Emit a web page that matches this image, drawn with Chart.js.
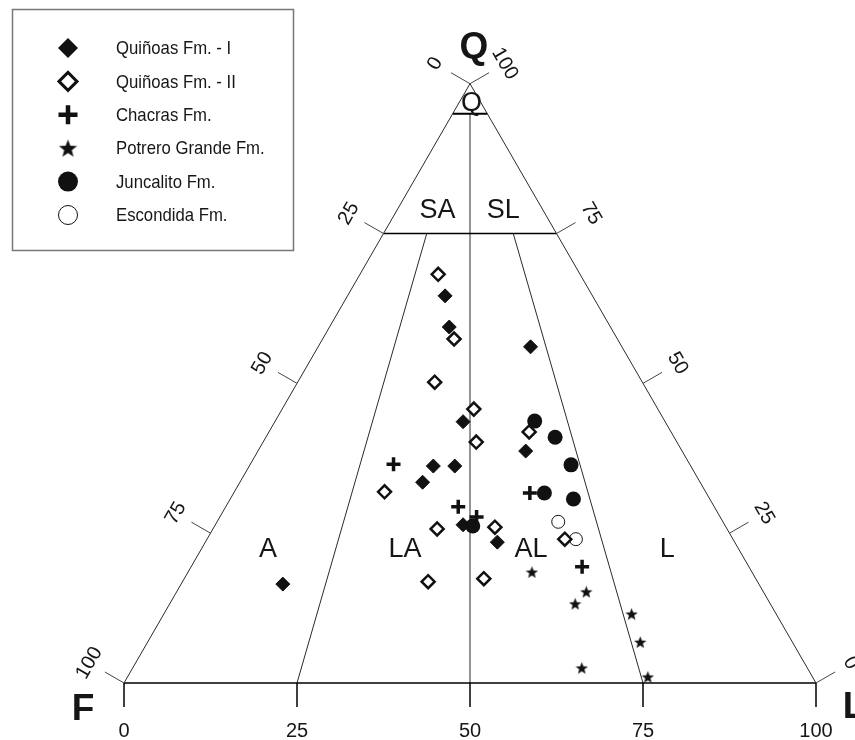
<!DOCTYPE html>
<html>
<head>
<meta charset="utf-8">
<title>QFL ternary diagram</title>
<script src="https://cdn.jsdelivr.net/npm/chart.js@4.4.1/dist/chart.umd.min.js"></script>
<style>
  html, body { margin: 0; padding: 0; background: #fff; }
  canvas { display: block; }
</style>
</head>
<body>
<canvas id="qfl" width="855" height="740"></canvas>
<script>
// ---- Modal compositions, each sample as [Q, F, L] in percent ----
const quinoasI = [
  [64.6, 21.3, 14.1], [59.4, 23.3, 17.3], [56.1, 13.2, 30.7], [43.6, 29.2, 27.2],
  [36.2, 37.2, 26.6], [36.2, 34.1, 29.7], [33.5, 40.1, 26.4], [38.7, 22.6, 38.7],
  [26.4, 37.8, 35.8], [23.5, 34.3, 42.2], [16.5, 68.8, 14.7]
];
const quinoasII = [
  [68.2, 20.5, 11.3], [57.4, 23.6, 19.0], [50.2, 30.0, 19.8], [45.7, 26.6, 27.7],
  [41.9, 20.5, 37.6], [40.2, 29.0, 30.8], [31.9, 46.4, 21.7], [25.7, 41.9, 32.4],
  [26.0, 33.4, 40.6], [24.0, 24.3, 51.7], [16.9, 47.6, 35.5], [17.4, 39.3, 43.3]
];
const chacras = [
  [36.5, 42.8, 20.7], [29.4, 37.0, 33.6], [27.7, 35.2, 37.1], [31.7, 25.5, 42.8],
  [19.4, 24.1, 56.5]
];
const potreroGrande = [
  [18.5, 31.8, 49.7], [15.2, 25.6, 59.2], [13.2, 28.2, 58.6], [11.5, 20.9, 67.6],
  [6.8, 22.0, 71.2], [1.0, 23.8, 75.2], [2.5, 32.6, 64.9]
];
const juncalito = [
  [43.7, 18.8, 37.5], [41.0, 17.2, 41.8], [36.4, 17.2, 46.4], [31.7, 23.4, 44.9],
  [30.7, 19.7, 49.6], [26.2, 36.5, 37.3]
];
const escondida = [
  [26.9, 23.8, 49.3], [24.0, 22.7, 53.3]
];

const seriesNames = ['Quiñoas Fm. - I', 'Quiñoas Fm. - II', 'Chacras Fm.',
                     'Potrero Grande Fm.', 'Juncalito Fm.', 'Escondida Fm.'];

// Axis ticks (percent) along each side of the triangle
const baseTicks = [0, 25, 50, 75, 100];        // L, along F-L side
const leftTicks = [0, 25, 50, 75, 100];        // F, along Q-F side
const rightTicks = [100, 75, 50, 25, 0];       // Q, along Q-L side
const cornerNames = ['Q', 'F', 'L'];
const fieldNames = ['Q', 'SA', 'SL', 'A', 'LA', 'AL', 'L'];

// ---- Ternary geometry ----
const H = Math.sqrt(3) / 2;
function toXY(c) {
  const s = c[0] + c[1] + c[2];
  const q = c[0] / s * 100, l = c[2] / s * 100;
  return { x: l + q / 2, y: q * H };
}

// Classification field boundaries (Q, F, L end points)
const boundaries = [
  { pts: [[100, 0, 0], [0, 100, 0]], w: 1, c: '#2a2a2a' },
  { pts: [[100, 0, 0], [0, 0, 100]], w: 1, c: '#2a2a2a' },
  { pts: [[0, 100, 0], [0, 0, 100]], w: 1.6, c: '#000' },
  { pts: [[95, 5, 0], [95, 0, 5]], w: 2, c: '#000' },
  { pts: [[75, 25, 0], [75, 0, 25]], w: 1.6, c: '#000' },
  { pts: [[95, 2.5, 2.5], [0, 50, 50]], w: 1.6, c: '#7a7a7a' },
  { pts: [[75, 18.75, 6.25], [0, 75, 25]], w: 1, c: '#2a2a2a' },
  { pts: [[75, 6.25, 18.75], [0, 25, 75]], w: 1, c: '#2a2a2a' }
];

// Star marker image
function makeStar(size) {
  const c = document.createElement('canvas');
  c.width = c.height = size;
  const g = c.getContext('2d');
  const R = size / 2, r = R * 0.42;
  const cx = size / 2, cy = size / 2 + R * 0.08;
  g.beginPath();
  for (let i = 0; i < 10; i++) {
    const a = -Math.PI / 2 + i * Math.PI / 5;
    const rr = i % 2 ? r : R;
    g.lineTo(cx + rr * Math.cos(a), cy + rr * Math.sin(a));
  }
  g.closePath();
  g.fillStyle = '#111';
  g.fill();
  return c;
}
const starSmall = makeStar(13);
const starBig = makeStar(19);

const markerStyles = [
  { pointStyle: 'rectRot', pointRadius: 7, backgroundColor: '#111', borderColor: '#111', borderWidth: 1 },
  { pointStyle: 'rectRot', pointRadius: 6.5, backgroundColor: '#fff', borderColor: '#111', borderWidth: 2.5 },
  { pointStyle: 'cross', pointRadius: 7, backgroundColor: '#111', borderColor: '#111', borderWidth: 3.5 },
  { pointStyle: starSmall, pointRadius: 7, backgroundColor: '#111', borderColor: '#111', borderWidth: 0 },
  { pointStyle: 'circle', pointRadius: 7.5, backgroundColor: '#111', borderColor: '#111', borderWidth: 0 },
  { pointStyle: 'circle', pointRadius: 6.5, backgroundColor: '#fff', borderColor: '#111', borderWidth: 1 }
];
const seriesData = [quinoasI, quinoasII, chacras, potreroGrande, juncalito, escondida];
const drawOrder = [5, 3, 1, 2, 4, 6];

const datasets = [];
seriesData.forEach((d, i) => {
  const st = markerStyles[i];
  datasets.push({
    label: seriesNames[i],
    data: d.map(toXY),
    showLine: false,
    order: drawOrder[i],
    pointStyle: st.pointStyle,
    pointRadius: st.pointRadius,
    pointHoverRadius: st.pointRadius,
    pointBackgroundColor: st.backgroundColor,
    pointBorderColor: st.borderColor,
    pointBorderWidth: st.borderWidth,
    pointHoverBorderWidth: st.borderWidth,
    clip: false
  });
});
boundaries.forEach((b, i) => {
  datasets.push({
    label: 'boundary' + i,
    data: b.pts.map(toXY),
    showLine: true,
    pointRadius: 0,
    pointHoverRadius: 0,
    borderColor: b.c,
    borderWidth: b.w,
    fill: false,
    order: 20 + i,
    clip: false
  });
});

// ---- Decorations: ticks, tick labels, corner and field names, legend ----
const FONT = "'Liberation Sans', Arial, sans-serif";
function txt(ctx, s, x, y, o) {
  ctx.save();
  ctx.translate(x, y);
  ctx.rotate(o.rot || 0);
  ctx.scale(o.sx || 1, 1);
  ctx.font = o.font;
  ctx.textAlign = o.align || 'center';
  ctx.textBaseline = o.baseline || 'alphabetic';
  ctx.fillStyle = o.color || '#161616';
  ctx.fillText(s, 0, 0);
  ctx.restore();
}

function legendMarker(ctx, i, x, y) {
  ctx.save();
  ctx.fillStyle = '#111';
  ctx.strokeStyle = '#111';
  if (i === 0 || i === 1) {
    const r = i === 0 ? 10 : 9;
    ctx.beginPath();
    ctx.moveTo(x - r, y); ctx.lineTo(x, y - r); ctx.lineTo(x + r, y); ctx.lineTo(x, y + r);
    ctx.closePath();
    if (i === 0) { ctx.fill(); }
    else { ctx.fillStyle = '#fff'; ctx.fill(); ctx.lineWidth = 3; ctx.stroke(); }
  } else if (i === 2) {
    ctx.lineWidth = 4.5;
    ctx.beginPath();
    ctx.moveTo(x - 9.5, y); ctx.lineTo(x + 9.5, y);
    ctx.moveTo(x, y - 9.5); ctx.lineTo(x, y + 9.5);
    ctx.stroke();
  } else if (i === 3) {
    ctx.drawImage(starBig, x - starBig.width / 2, y - starBig.height / 2);
  } else {
    ctx.beginPath();
    ctx.arc(x, y, i === 4 ? 10 : 9.5, 0, Math.PI * 2);
    if (i === 4) { ctx.fill(); }
    else { ctx.fillStyle = '#fff'; ctx.fill(); ctx.lineWidth = 1; ctx.stroke(); }
  }
  ctx.restore();
}

const decorations = {
  id: 'decorations',
  afterDraw(chart) {
    const ctx = chart.ctx;
    const xs = chart.scales.x, ys = chart.scales.y;
    const P = c => { const p = toXY(c); return [xs.getPixelForValue(p.x), ys.getPixelForValue(p.y)]; };
    const tickLen = 22, labDist = 40;
    const numFont = '20px ' + FONT;

    ctx.save();
    ctx.strokeStyle = '#333';
    ctx.lineWidth = 1;

    // base ticks (L)
    baseTicks.forEach(v => {
      const [x, y] = P([0, 100 - v, v]);
      ctx.strokeStyle = '#000';
      ctx.lineWidth = 1.5;
      ctx.beginPath(); ctx.moveTo(x, y); ctx.lineTo(x, y + 24); ctx.stroke();
      txt(ctx, String(v), x, y + 54, { font: numFont });
    });

    // left side ticks (F)
    const nl = [-Math.cos(Math.PI / 6), -0.5];
    leftTicks.forEach(v => {
      const [x, y] = P([100 - v, v, 0]);
      ctx.strokeStyle = '#444';
      ctx.lineWidth = 1;
      ctx.beginPath(); ctx.moveTo(x, y); ctx.lineTo(x + nl[0] * tickLen, y + nl[1] * tickLen); ctx.stroke();
      txt(ctx, String(v), x + nl[0] * labDist, y + nl[1] * labDist,
          { font: numFont, baseline: 'middle', rot: -Math.PI / 3 });
    });

    // right side ticks (Q)
    const nr = [Math.cos(Math.PI / 6), -0.5];
    rightTicks.forEach(v => {
      const [x, y] = P([v, 0, 100 - v]);
      ctx.strokeStyle = '#444';
      ctx.lineWidth = 1;
      ctx.beginPath(); ctx.moveTo(x, y); ctx.lineTo(x + nr[0] * tickLen, y + nr[1] * tickLen); ctx.stroke();
      txt(ctx, String(v), x + nr[0] * labDist, y + nr[1] * labDist,
          { font: numFont, baseline: 'middle', rot: Math.PI / 3 });
    });

    // corner names
    const bold = 'bold 37px ' + FONT;
    const [qx, qy] = P([100, 0, 0]);
    txt(ctx, cornerNames[0], qx + 4, qy - 26, { font: bold });
    const [fx, fy] = P([0, 100, 0]);
    txt(ctx, cornerNames[1], fx - 41, fy + 37, { font: bold });
    const [lx, ly] = P([0, 0, 100]);
    txt(ctx, cornerNames[2], lx + 38, ly + 35, { font: bold });

    // field names (positions in chart units)
    const fieldPos = [[50.2, 82.6], [45.3, 67.2], [54.8, 67.2], [20.8, 18.2],
                      [40.6, 18.2], [58.8, 18.2], [78.5, 18.2]];
    fieldNames.forEach((n, i) => {
      txt(ctx, n, xs.getPixelForValue(fieldPos[i][0]), ys.getPixelForValue(fieldPos[i][1]),
          { font: '27px ' + FONT });
    });

    // legend
    ctx.strokeStyle = '#777';
    ctx.lineWidth = 1.5;
    ctx.strokeRect(12.5, 9.5, 281, 241);
    seriesNames.forEach((n, i) => {
      const y = 48 + i * 33.4;
      legendMarker(ctx, i, 68, y);
      txt(ctx, n, 116, y + 1, { font: '19px ' + FONT, align: 'left', baseline: 'middle', sx: 0.88 });
    });
    ctx.restore();
  }
};

// chart units: 1 unit = 6.92 px on both axes, so the triangle stays equilateral
const PX = 6.92;
new Chart(document.getElementById('qfl'), {
  type: 'scatter',
  data: { datasets },
  options: {
    responsive: false,
    animation: false,
    events: [],
    layout: { padding: 0, autoPadding: false },
    plugins: { legend: { display: false }, tooltip: { enabled: false } },
    scales: {
      x: { type: 'linear', display: false, min: -124 / PX, max: (855 - 124) / PX },
      y: { type: 'linear', display: false, min: -(740 - 683) / PX, max: 683 / PX }
    }
  },
  plugins: [decorations]
});
</script>
</body>
</html>
